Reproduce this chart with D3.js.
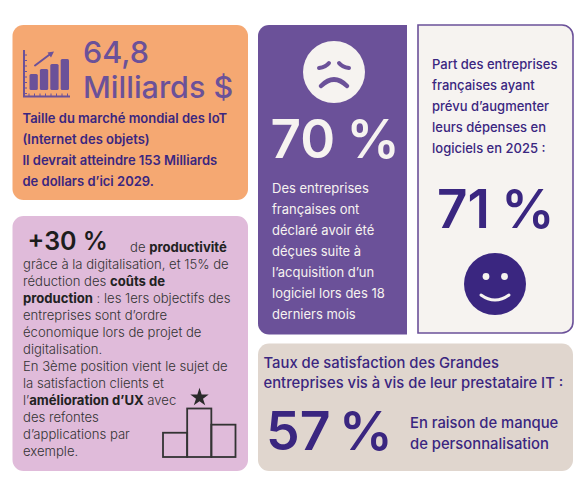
<!DOCTYPE html>
<html><head><meta charset="utf-8">
<script src="https://cdn.jsdelivr.net/npm/d3@7/dist/d3.min.js"></script>
<style>html,body{margin:0;padding:0;background:#fff}svg{display:block}text{font-family:Inter,"Noto Sans",sans-serif}</style>
</head><body><div id="c"></div>
<script>
const marketValue = ["64,8", "Milliards $"];
const marketText = ["Taille du marché mondial des IoT", "(Internet des objets)", "Il devrait atteindre 153 Milliards", "de dollars d’ici 2029."];
const iconBars = [16, 21, 26, 31];
const podiumBars = [24, 48, 32];
const prodValue = "+30 %";
const prodLines = [
  [["de ",0],["productivité",1]],
  [["grâce à la digitalisation, et 15% de",0]],
  [["réduction des ",0],["coûts de",1]],
  [["production",1],[" : les 1ers objectifs des",0]],
  [["entreprises sont d’ordre",0]],
  [["économique lors de projet de",0]],
  [["digitalisation.",0]],
  [["En 3ème position vient le sujet de",0]],
  [["la satisfaction clients et",0]],
  [["l’",0],["amélioration d’UX",1],[" avec",0]],
  [["des refontes",0]],
  [["d’applications par",0]],
  [["exemple.",0]]
];
const disappointedValue = "70 %";
const disappointedText = ["Des entreprises","françaises ont","déclaré avoir été","déçues suite à","l’acquisition d’un","logiciel lors des 18","derniers mois"];
const spendText = ["Part des entreprises","françaises ayant","prévu d’augmenter","leurs dépenses en","logiciels en 2025 :"];
const spendValue = "71 %";
const satisfactionTitle = ["Taux de satisfaction des Grandes","entreprises vis à vis de leur prestataire IT :"];
const satisfactionValue = "57 %";
const satisfactionNote = ["En raison de manque","de personnalisation"];

const ORANGE="#F5A872",PINK="#E0BBDA",PURPLE="#6B5199",CREAM="#F6F3F0",BEIGE="#E0D6CE",INK="#3A2680",DARK="#333333";
const svg=d3.select("#c").append("svg").attr("width",583).attr("height",480).attr("viewBox","0 0 583 480");

function lines(arr,x,y0,dy,size,weight,fill){
  svg.append("g").selectAll("text").data(arr).join("text")
    .attr("x",x).attr("y",(d,i)=>y0+i*dy).attr("font-size",size).attr("font-weight",weight).attr("fill",fill).text(d=>d);
}
function big(t,x,y,size,weight,fill,ws){svg.append("text").attr("x",x).attr("y",y).attr("font-size",size).attr("font-weight",weight).attr("fill",fill).attr("word-spacing",ws||0).text(t);}
function panel(x0,y0,x1,y1,r,fill,corners,stroke){
  const [tl,tr,br,bl]=corners.map(c=>c?r:0);
  const p=d3.path();
  p.moveTo(x0+tl,y0);p.lineTo(x1-tr,y0);if(tr)p.arcTo(x1,y0,x1,y0+tr,tr);
  p.lineTo(x1,y1-br);if(br)p.arcTo(x1,y1,x1-br,y1,br);
  p.lineTo(x0+bl,y1);if(bl)p.arcTo(x0,y1,x0,y1-bl,bl);
  p.lineTo(x0,y0+tl);if(tl)p.arcTo(x0,y0,x0+tl,y0,tl);p.closePath();
  const e=svg.append("path").attr("d",p.toString()).attr("fill",fill);
  if(stroke)e.attr("stroke",stroke).attr("stroke-width",1.6);
}
panel(12.5,25,248,200,11,ORANGE,[1,1,1,1]);
panel(12.5,216,248,471,11,PINK,[1,1,1,1]);
panel(258,25,407,334.5,11,PURPLE,[1,0,0,1]);
panel(418,25,573,333,11,CREAM,[0,1,1,0],PURPLE);
panel(258,343.5,573,471,11,BEIGE,[1,1,1,1]);

// Chart icon
const iconX=d3.scaleBand().domain(d3.range(iconBars.length)).range([29.5,69]).paddingInner(0.2).paddingOuter(0);
const iconY=d3.scaleLinear().domain([0,31]).range([90,59]);
const icon=svg.append("g");
icon.selectAll("rect").data(iconBars).join("rect")
  .attr("x",(d,i)=>iconX(i)).attr("y",d=>iconY(d)).attr("width",iconX.bandwidth()).attr("height",d=>iconY(0)-iconY(d)).attr("rx",1.5).attr("fill",PURPLE);
icon.append("path").attr("fill","none").attr("stroke",PURPLE).attr("stroke-width",2)
  .attr("d","M24,50V96.5H70");
icon.append("path").attr("fill","none").attr("stroke",PURPLE).attr("stroke-width",1)
  .attr("d",d3.range(55,96,5.5).map(y=>`M24,${y}h3`).join("")+d3.range(29,70,5.5).map(x=>`M${x},96.5v-3`).join(""));
icon.append("path").attr("fill","none").attr("stroke",PURPLE).attr("stroke-width",2).attr("stroke-linecap","round").attr("d","M35,65.5L51,53.5");
icon.append("path").attr("fill",PURPLE).attr("d","M54,51.5L47.5,52.5L51,57.5Z");

lines(marketValue,83,63,35,30.5,500,PURPLE);
lines(marketText,22.5,123,21,13,600,INK);

// Productivity card
big(prodValue,27.5,250,25,600,"#1d1d1d");
const prodStart=[130,23];
svg.append("g").selectAll("text").data(prodLines).join("text")
  .attr("x",(d,i)=>i===0?prodStart[0]:prodStart[1])
  .attr("y",(d,i)=>i===0?252:269+(i-1)*17)
  .attr("font-size",13.1).attr("fill",DARK)
  .selectAll("tspan").data(d=>d).join("tspan")
  .attr("font-weight",d=>d[1]?700:300).attr("fill",d=>d[1]?"#222":DARK).style("white-space","pre").text(d=>d[0]);

// Podium
const podX=d3.scaleBand().domain(d3.range(podiumBars.length)).range([163,235.5]);
const podY=d3.scaleLinear().domain([0,48]).range([457,408.5]);
svg.append("g").selectAll("rect").data(podiumBars).join("rect")
  .attr("x",(d,i)=>podX(i)).attr("y",d=>podY(d)).attr("width",podX.bandwidth()).attr("height",d=>podY(0)-podY(d))
  .attr("fill","none").attr("stroke",DARK).attr("stroke-width",1.8);
svg.append("path").attr("d",d3.symbol(d3.symbolStar,105)()).attr("transform","translate(199.5,397.5)").attr("fill","#2a2a2a");

// Sad face
const sad=svg.append("g").attr("transform","translate(334,72)");
sad.append("circle").attr("r",31).attr("fill",CREAM);
sad.append("path").attr("fill","none").attr("stroke",PURPLE).attr("stroke-width",4).attr("stroke-linecap","round")
  .attr("d","M-15,-4Q-8,-5 -5,-9M15,-4Q8,-5 5,-9");
sad.append("path").attr("fill","none").attr("stroke",PURPLE).attr("stroke-width",4.5).attr("stroke-linecap","round")
  .attr("d","M-13,14Q0,1 13,14");
big(disappointedValue,270.5,158,53,600,CREAM,-2);
lines(disappointedText,272,193,21,13,400,CREAM);

// Spending card
lines(spendText,432,69,21,13,500,INK);
big(spendValue,437,228,53,600,INK,-2);
const happy=svg.append("g").attr("transform","translate(495,284)");
happy.append("circle").attr("r",31).attr("fill",INK);
happy.selectAll("circle.e").data([-9,9.5]).join("circle").attr("class","e").attr("cx",d=>d).attr("cy",-7.5).attr("r",3.4).attr("fill",CREAM);
happy.append("path").attr("fill","none").attr("stroke",CREAM).attr("stroke-width",3).attr("stroke-linecap","round").attr("d","M-14,11Q0,21 14,11");

// Satisfaction card
lines(satisfactionTitle,263.5,368,20,14.8,500,INK);
big(satisfactionValue,266,450,53.5,600,INK,-5);
lines(satisfactionNote,410,428,20.5,14.8,500,INK);
</script></body></html>
